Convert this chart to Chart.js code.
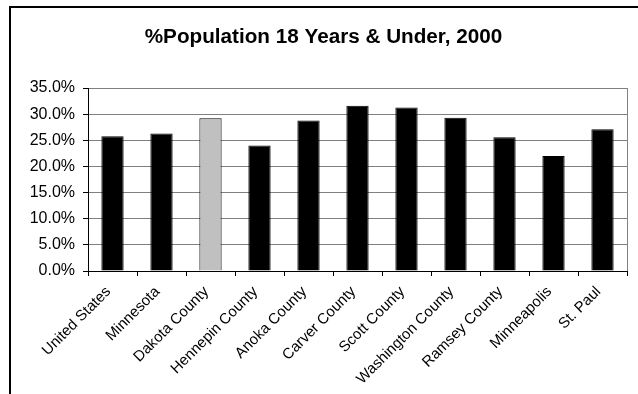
<!DOCTYPE html>
<html>
<head>
<meta charset="utf-8">
<script src="https://cdn.jsdelivr.net/npm/chart.js@4.4.0/dist/chart.umd.min.js"></script>
<style>
  html, body { margin: 0; padding: 0; background: #fff; }
  #wrap { width: 638px; height: 394px; position: relative; }
</style>
</head>
<body>
<div id="wrap"><canvas id="c" width="638" height="394"></canvas></div>
<script>
const title = "%Population 18 Years & Under, 2000";
const categories = ["United States", "Minnesota", "Dakota County", "Hennepin County", "Anoka County",
  "Carver County", "Scott County", "Washington County", "Ramsey County", "Minneapolis", "St. Paul"];
const pctUnder18 = [25.8, 26.3, 29.2, 24.0, 28.8, 31.6, 31.3, 29.3, 25.6, 22.0, 27.1];
const highlighted = "Dakota County";
const yTicks = [0, 5, 10, 15, 20, 25, 30, 35];

const FONT = "'Liberation Sans', Arial, sans-serif";

const framePlugin = {
  id: 'frame',
  beforeDraw(chart) {
    const c = chart.ctx;
    c.save();
    c.strokeStyle = '#000';
    c.lineWidth = 2;
    c.beginPath();
    c.moveTo(10, chart.height);
    c.lineTo(10, 7);
    c.lineTo(chart.width, 7);
    c.stroke();
    c.restore();
  },
  afterDatasetsDraw(chart) {
    const a = chart.chartArea;
    const c = chart.ctx;
    c.save();
    c.strokeStyle = '#808080';
    c.lineWidth = 1;
    c.beginPath();
    c.moveTo(Math.round(a.right) + 0.5, a.top);
    c.lineTo(Math.round(a.right) + 0.5, a.bottom);
    c.stroke();
    c.restore();
  }
};

new Chart(document.getElementById('c'), {
  type: 'bar',
  data: {
    labels: categories,
    datasets: [{
      data: pctUnder18,
      backgroundColor: categories.map(c => c === highlighted ? '#c0c0c0' : '#000000'),
      borderColor: '#000000',
      borderWidth: 1,
      barPercentage: 0.4545,
      categoryPercentage: 1.0
    }]
  },
  options: {
    responsive: false,
    animation: false,
    devicePixelRatio: 1,
    layout: { padding: { left: 20, right: 11, top: 0, bottom: 0 } },
    plugins: {
      legend: { display: false },
      tooltip: { enabled: false },
      title: {
        display: true,
        text: title,
        color: '#000',
        font: { family: FONT, size: 20.7, weight: 'bold' },
        padding: { top: 25, bottom: 38.2 }
      }
    },
    scales: {
      x: {
        afterFit(s) { s.height = 123; },
        grid: {
          offset: true,
          drawOnChartArea: false,
          drawTicks: true,
          tickLength: 5,
          tickColor: '#000',
          color: '#000'
        },
        border: { color: '#000', width: 1 },
        ticks: {
          color: '#000',
          font: { family: FONT, size: 15 },
          minRotation: 45,
          maxRotation: 45,
          autoSkip: false,
          padding: 7,
          labelOffset: -4
        }
      },
      y: {
        min: 0,
        max: 35,
        afterFit(s) { s.width = 68; },
        afterBuildTicks(s) { s.ticks = yTicks.map(v => ({ value: v })); },
        grid: {
          color: '#808080',
          lineWidth: 1,
          tickLength: 5,
          tickColor: '#000'
        },
        border: { color: '#000', width: 1 },
        ticks: {
          color: '#000',
          font: { family: FONT, size: 16 },
          padding: 8,
          callback: v => v.toFixed(1) + '%'
        }
      }
    }
  },
  plugins: [framePlugin]
});
</script>
</body>
</html>
